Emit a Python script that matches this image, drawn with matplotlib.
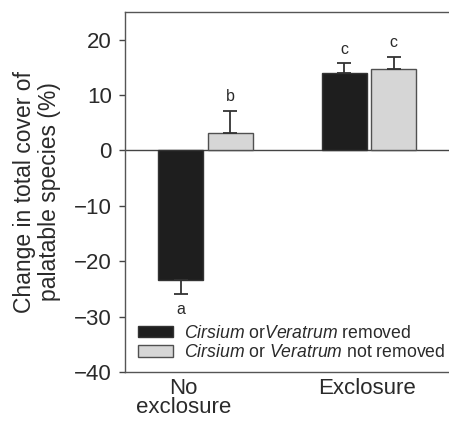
import numpy as np
import matplotlib
matplotlib.use("Agg")
import matplotlib.pyplot as plt

plt.rcParams['font.family'] = ['Liberation Sans', 'DejaVu Sans']
plt.rcParams['mathtext.fontset'] = 'custom'
plt.rcParams['mathtext.it'] = 'Liberation Sans:italic'
plt.rcParams['mathtext.rm'] = 'Liberation Sans'

# data
groups = ["No\nexclosure", "Exclosure"]
removed = [-23.3, 13.9]
removed_err = [2.7, 1.9]
not_removed = [3.2, 14.8]
not_removed_err = [4.0, 2.1]
letters_removed = ["a", "c"]
letters_not_removed = ["b", "c"]

txt = "#2a2a2a"
fig = plt.figure(figsize=(4.49, 4.22), dpi=100)
ax = fig.add_axes([0.278, 0.1185, 0.722, 0.853])

x = np.arange(len(groups))
off = 0.152
w = 0.275

def one_sided(vals, errs):
    lo = [e if v < 0 else 0 for v, e in zip(vals, errs)]
    hi = [e if v >= 0 else 0 for v, e in zip(vals, errs)]
    return [lo, hi]

ekw = dict(ecolor="#333333", elinewidth=1.3, capthick=1.3)
ax.bar(x - off, removed, w, color="#1e1e1e", edgecolor="#333333", linewidth=1.0,
       yerr=one_sided(removed, removed_err), capsize=5, error_kw=ekw,
       label=r"$\mathit{Cirsium}$ or$\mathit{Veratrum}$ removed", zorder=3)
ax.bar(x + off, not_removed, w, color="#d6d6d6", edgecolor="#505050", linewidth=1.0,
       yerr=one_sided(not_removed, not_removed_err), capsize=5, error_kw=ekw,
       label=r"$\mathit{Cirsium}$ or $\mathit{Veratrum}$ not removed", zorder=3)

# significance letters
for xs, vals, errs, lets in [(x - off, removed, removed_err, letters_removed),
                             (x + off, not_removed, not_removed_err, letters_not_removed)]:
    for xi, v, e, l in zip(xs, vals, errs, lets):
        end = v - e if v < 0 else v + e
        ax.annotate(l, (xi, end), xytext=(0, -11 if v < 0 else 10), textcoords="offset points",
                    ha="center", va="center", fontsize=11.5, color=txt)

ax.axhline(0, color="#444444", linewidth=1.0, zorder=2)

ax.set_xlim(-0.495, 1.49)
ax.set_ylim(-40, 25)
ax.set_yticks([-40, -30, -20, -10, 0, 10, 20])
ax.set_xticks([-0.135, 0.99])
ax.set_xticklabels(groups, fontsize=16, color=txt, linespacing=0.88)
ax.tick_params(axis="x", length=0, pad=4.5)
ax.tick_params(axis="y", labelsize=16, labelcolor=txt, length=4.5, width=1, color="#444444", pad=5)
ax.spines["right"].set_visible(False)
for s in ["left", "top", "bottom"]:
    ax.spines[s].set_color("#555555")
    ax.spines[s].set_linewidth(1.0)

ax.set_ylabel("Change in total cover of\npalatable species (%)", fontsize=16.5, color=txt,
              labelpad=9, linespacing=1.12)

leg = ax.legend(loc="lower left", bbox_to_anchor=(0.04, 0.03), frameon=False, fontsize=12.7,
                handlelength=2.0, handleheight=0.62, handletextpad=0.6, labelspacing=0.13,
                labelcolor=txt, borderaxespad=0, borderpad=0)

fig.savefig("out.png", dpi=100)
